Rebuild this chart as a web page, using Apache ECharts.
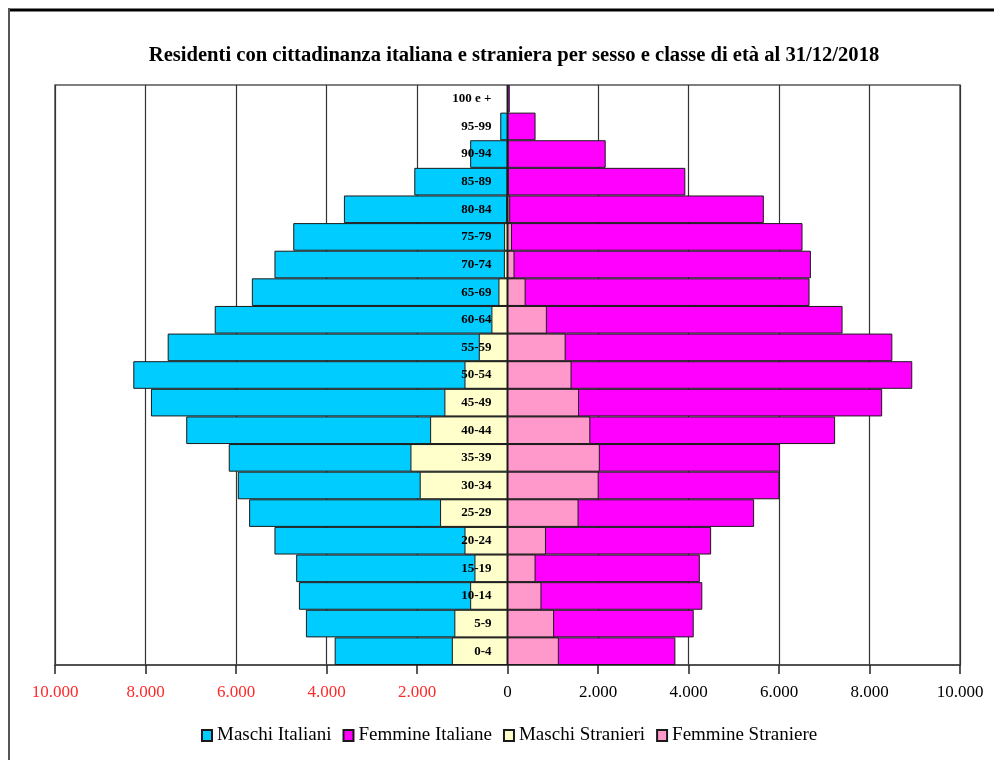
<!DOCTYPE html>
<html>
<head>
<meta charset="utf-8">
<title>Residenti per sesso e classe di età</title>
<script src="https://cdn.jsdelivr.net/npm/echarts@6/dist/echarts.min.js"></script>
<style>
  html, body { margin: 0; padding: 0; background: #ffffff; }
  #chart { width: 994px; height: 760px; }
</style>
</head>
<body>
<div id="chart"></div>
<script>
// Classi di età, dal basso verso l'alto
const classiEta = ['0-4', '5-9', '10-14', '15-19', '20-24', '25-29', '30-34', '35-39', '40-44', '45-49',
  '50-54', '55-59', '60-64', '65-69', '70-74', '75-79', '80-84', '85-89', '90-94', '95-99', '100 e +'];

const maschiItaliani = [3820, 4455, 4610, 4670, 5150, 5710, 5960, 6160, 7100, 7880,
  8270, 7510, 6470, 5650, 5150, 4735, 3615, 2060, 825, 160, 10];
const femmineItaliane = [3710, 4115, 4305, 4250, 4500, 5450, 6010, 6020, 7240, 8280,
  8945, 8505, 7405, 6675, 6705, 6520, 5665, 3930, 2170, 620, 50];
const maschiStranieri = [1230, 1175, 825, 730, 950, 1490, 1940, 2145, 1710, 1395,
  950, 635, 355, 200, 80, 75, 30, 10, 5, 0, 0];
const femmineStraniere = [1135, 1030, 750, 620, 850, 1570, 2015, 2040, 1830, 1580,
  1415, 1285, 870, 400, 155, 100, 60, 30, 15, 5, 0];

const tickValori = [-10000, -8000, -6000, -4000, -2000, 0, 2000, 4000, 6000, 8000, 10000];

const serif = '"Liberation Serif", "Times New Roman", serif';

function migliaia(v) {
  return String(Math.abs(v)).replace(/\B(?=(\d{3})+(?!\d))/g, '.');
}

const chart = echarts.init(document.getElementById('chart'), null, { renderer: 'canvas' });

function serie(nome, valori, colore, negativo) {
  return {
    name: nome,
    type: 'bar',
    data: valori.map(v => negativo ? -v : v),
    barGap: '-100%',
    barCategoryGap: '0%',
    itemStyle: { color: colore, borderColor: '#1a1a1a', borderWidth: 1 },
    emphasis: { disabled: true },
    animation: false
  };
}

const gridLeft = 55, gridRight = 34;
// etichette delle classi allineate a destra poco prima dello zero
const centroX = gridLeft + (994 - gridLeft - gridRight) / 2;
const margineEtichette = -(centroX - 16 - gridLeft);

chart.setOption({
  backgroundColor: '#ffffff',
  animation: false,
  title: {
    text: 'Residenti con cittadinanza italiana e straniera per sesso e classe di età al 31/12/2018',
    left: 509,
    textAlign: 'center',
    top: 40,
    textStyle: { fontFamily: serif, fontWeight: 'bold', fontSize: 20.6, color: '#000000' }
  },
  legend: {
    bottom: 10,
    left: 196,
    itemWidth: 10,
    itemHeight: 11,
    itemGap: 11,
    icon: 'rect',
    textStyle: { fontFamily: serif, fontSize: 19, color: '#000000' },
    data: ['Maschi Italiani', 'Femmine Italiane', 'Maschi Stranieri', 'Femmine Straniere']
  },
  grid: {
    left: gridLeft, right: gridRight, top: 85, bottom: 95,
    show: true, borderColor: '#555555', borderWidth: 1.5, backgroundColor: 'transparent'
  },
  xAxis: {
    type: 'value',
    min: tickValori[0],
    max: tickValori[tickValori.length - 1],
    interval: 2000,
    z: 0,
    axisLine: { show: true, onZero: false, lineStyle: { color: '#444444', width: 1.5 } },
    axisTick: { show: true, length: 9, lineStyle: { color: '#222222', width: 1.5 } },
    splitLine: { show: true, lineStyle: { color: '#333333', width: 1.2 } },
    axisLabel: {
      margin: 19,
      fontFamily: serif,
      fontSize: 17,
      color: '#000000',
      formatter: v => v < 0 ? '{neg|' + migliaia(v) + '}' : migliaia(v),
      rich: { neg: { color: '#ff2a2a', fontFamily: serif, fontSize: 17 } }
    }
  },
  yAxis: {
    type: 'category',
    data: classiEta,
    z: 10,
    axisLine: { show: false, onZero: false },
    axisTick: { show: false },
    splitLine: { show: false },
    axisLabel: {
      margin: margineEtichette,
      fontFamily: serif,
      fontWeight: 'bold',
      fontSize: 13,
      color: '#000000'
    }
  },
  series: [
    serie('Maschi Italiani', maschiItaliani, '#00ccff', true),
    serie('Femmine Italiane', femmineItaliane, '#ff00ff', false),
    serie('Maschi Stranieri', maschiStranieri, '#ffffcc', true),
    serie('Femmine Straniere', femmineStraniere, '#ff99cc', false)
  ],
  graphic: [
    { type: 'line', shape: { x1: 8, y1: 10, x2: 994, y2: 10 }, style: { stroke: '#000000', lineWidth: 3 }, silent: true },
    { type: 'line', shape: { x1: 9, y1: 8, x2: 9, y2: 760 }, style: { stroke: '#555555', lineWidth: 2 }, silent: true }
  ]
});
</script>
</body>
</html>
